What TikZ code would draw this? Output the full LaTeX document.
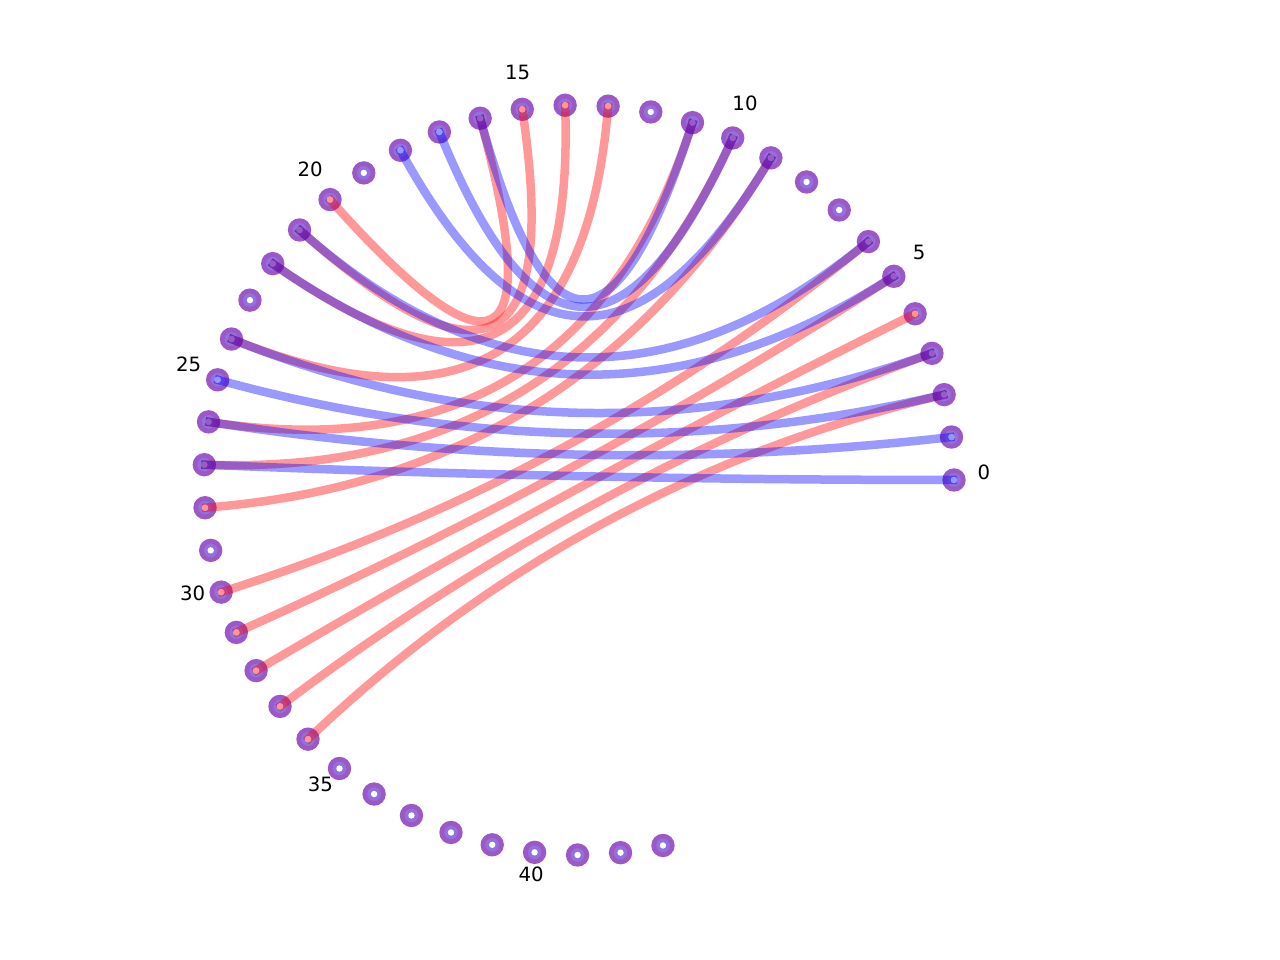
\documentclass[tikz,border=0pt]{standalone}
\usepackage{fontspec}
\setmainfont{DejaVu Sans}
\usetikzlibrary{calc}
\definecolor{ringout}{RGB}{155,89,200}
\definecolor{ringin}{RGB}{147,112,219}
\definecolor{dotred}{RGB}{255,150,150}
\definecolor{dotblue}{RGB}{150,150,255}
\definecolor{dotboth}{RGB}{153,92,194}
\tikzset{
  ring/.style={circle, fill=ringout, minimum size=23.4pt, inner sep=0pt, draw=none},
  redge/.style={draw=red, draw opacity=0.4, line width=8.5pt, line cap=butt, shorten <=-3pt, shorten >=-3pt},
  bedge/.style={draw=blue, draw opacity=0.4, line width=8.5pt, line cap=butt, shorten <=-3pt, shorten >=-3pt},
  lbl/.style={font=\fontsize{19.7}{23}\selectfont, inner sep=0pt, anchor=south},
}
\begin{document}
\begin{tikzpicture}[x=1pt,y=1pt]
\useasboundingbox (-579,-480) rectangle (701,480);
\coordinate (o) at (0,0);
\foreach \i in {0,...,43} {
  \node[ring] (n\i) at (\i*6.58:375pt) {};
  \fill[ringin] (n\i.center) circle (6.8pt);
  \fill[white] (n\i.center) circle (3.2pt);
}
\foreach \a/\b in {2/34,3/33,4/32,5/31,6/30,9/28,10/27,11/26,13/24,14/22,15/21,16/20}
  \draw[redge] (n\a.center) .. controls ($(n\a.center)!0.6667!(o)$) and ($(n\b.center)!0.6667!(o)$) .. (n\b.center);
\foreach \a/\b in {0/27,1/26,2/25,3/24,5/22,6/21,9/18,10/17,11/16}
  \draw[bedge] (n\a.center) .. controls ($(n\a.center)!0.6667!(o)$) and ($(n\b.center)!0.6667!(o)$) .. (n\b.center);
\foreach \i/\c in {0/dotblue,1/dotblue,17/dotblue,18/dotblue,25/dotblue,
  4/dotred,13/dotred,14/dotred,15/dotred,20/dotred,28/dotred,30/dotred,31/dotred,32/dotred,33/dotred,34/dotred,
  2/dotboth,3/dotboth,5/dotboth,6/dotboth,9/dotboth,10/dotboth,11/dotboth,16/dotboth,21/dotboth,22/dotboth,24/dotboth,26/dotboth,27/dotboth}
  \fill[\c] (n\i.center) circle (3.2pt);
\foreach \i in {0,5,...,40}
  \node[lbl] (l\i) at (\i*6.58:405pt) {\i};
\end{tikzpicture}
\end{document}
